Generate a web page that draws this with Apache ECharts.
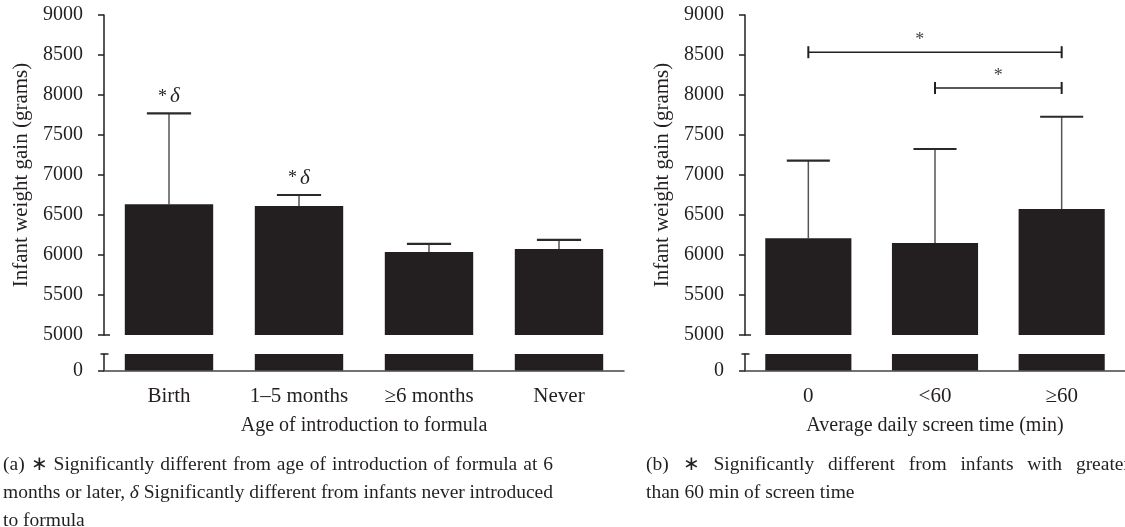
<!DOCTYPE html>
<html><head><meta charset="utf-8">
<script src="https://cdn.jsdelivr.net/npm/echarts@6/dist/echarts.min.js"></script>
<style>html,body{margin:0;padding:0;background:#fff}#c{width:1125px;height:527px}</style>
</head><body><div id="c"></div>
<script>
// ---------- data ----------
const formulaCategories = ['Birth', '1\u20135 months', '\u22656 months', 'Never'];
const formulaMeans = [6635, 6612, 6037, 6075];
const formulaUpper = [7770, 6750, 6140, 6188];
const formulaSig = ['*\u03b4', '*\u03b4', '', ''];

const screenCategories = ['0', '<60', '\u226560'];
const screenMeans = [6210, 6150, 6575];
const screenUpper = [7180, 7325, 7728];
// [fromCategoryIndex, toCategoryIndex, bracketValue]
const screenBrackets = [[0, 2, 8535], [1, 2, 8088]];

const upperMin = 5000, upperMax = 9000, upperStep = 500;
const lowerMin = 0, lowerMax = 200;

const captionA = [
  '(a) \u2217 Significantly different from age of introduction of formula at 6',
  'months or later, \u03b4 Significantly different from infants never introduced',
  'to formula'
];
const captionB = [
  '(b) \u2217 Significantly different from infants with greater',
  'than 60 min of screen time'
];

// ---------- style ----------
const INK = '#231f20';
const FONT = 'Liberation Serif';
const FS = 20;

const chart = echarts.init(document.getElementById('c'), null, {renderer: 'canvas'});

function gridsFor(left, width) {
  return [
    {left: left, top: 15, width: width, height: 320},
    {left: left, top: 354, width: width, height: 16.5}
  ];
}
const grids = [...gridsFor(104, 520), ...gridsFor(745, 387)];

const labelStyle = {fontFamily: FONT, fontSize: FS, color: INK};

function xAxes(cats, gTop, gBot, name) {
  return [
    {type: 'category', gridIndex: gTop, data: cats, axisLine: {show: false}, axisTick: {show: false}, axisLabel: {show: false}},
    {type: 'category', gridIndex: gBot, data: cats,
     axisLine: {show: true, lineStyle: {color: '#444', width: 1.5}},
     axisTick: {show: false},
     axisLabel: Object.assign({margin: 15, fontSize: 21}, {fontFamily: FONT, color: INK}),
     name: name, nameLocation: 'middle', nameGap: 45,
     nameTextStyle: labelStyle}
  ];
}
function yAxes(gTop, gBot, name) {
  return [
    {type: 'value', gridIndex: gTop, min: upperMin, max: upperMax, interval: upperStep,
     splitLine: {show: false},
     axisLine: {show: true, lineStyle: {color: INK, width: 1.5}},
     axisTick: {show: true, length: 6, lineStyle: {color: INK, width: 1.5}},
     axisLabel: Object.assign({margin: 21, formatter: v => String(v)}, labelStyle),
     name: name, nameLocation: 'middle', nameGap: 72, nameRotate: 90,
     nameTextStyle: {fontFamily: FONT, fontSize: 21, color: INK}},
    {type: 'value', gridIndex: gBot, min: lowerMin, max: lowerMax, interval: lowerMax,
     splitLine: {show: false},
     axisLine: {show: true, lineStyle: {color: INK, width: 1.5}},
     axisTick: {show: true, length: 6, customValues: [0], lineStyle: {color: INK, width: 1.5}},
     axisLabel: Object.assign({margin: 21, customValues: [0], formatter: v => String(v)}, labelStyle)}
  ];
}

function barSeries(values, xi, yi) {
  return {type: 'bar', xAxisIndex: xi, yAxisIndex: yi, data: values, barWidth: '68%',
          itemStyle: {color: INK}, clip: true, silent: true, animation: false};
}

function errorSeries(means, uppers, sig, xi, yi) {
  return {
    type: 'custom', xAxisIndex: xi, yAxisIndex: yi, silent: true, animation: false,
    data: means.map((m, i) => [i, m, uppers[i]]),
    encode: {x: 0, y: 1},
    renderItem: function (params, api) {
      const i = api.value(0);
      const base = api.coord([i, api.value(1)]);
      const top = api.coord([i, api.value(2)]);
      const bw = api.size([1, 0])[0] * 0.68;
      const half = bw * 0.25;
      const children = [
        {type: 'line', shape: {x1: base[0], y1: base[1], x2: top[0], y2: top[1]},
         style: {stroke: '#555', lineWidth: 1.5}},
        {type: 'line', shape: {x1: top[0] - half, y1: top[1], x2: top[0] + half, y2: top[1]},
         style: {stroke: '#2a2a2a', lineWidth: 2.2}}
      ];
      const s = sig ? sig[i] : '';
      if (s) {
        children.push({type: 'text', style: {
          text: '{s|' + s.charAt(0) + '}{d|' + s.slice(1) + '}',
          x: top[0], y: top[1] - 6, align: 'center', verticalAlign: 'bottom',
          rich: {
            s: {fontFamily: FONT, fontSize: 18, fill: INK, padding: [0, 3, 0, 0]},
            d: {fontFamily: FONT, fontSize: 21, fontStyle: 'italic', fill: INK}
          }
        }});
      }
      return {type: 'group', children: children};
    }
  };
}

function bracketSeries(brackets, xi, yi) {
  const starFrac = [0.44, 0.5];
  return {
    type: 'custom', xAxisIndex: xi, yAxisIndex: yi, silent: true, animation: false,
    data: brackets,
    encode: {x: 0, y: 2},
    renderItem: function (params, api) {
      const a = api.coord([api.value(0), api.value(2)]);
      const b = api.coord([api.value(1), api.value(2)]);
      const f = starFrac[params.dataIndex] != null ? starFrac[params.dataIndex] : 0.5;
      const sx = a[0] + (b[0] - a[0]) * f;
      return {type: 'group', children: [
        {type: 'line', shape: {x1: a[0], y1: a[1], x2: b[0], y2: b[1]}, style: {stroke: INK, lineWidth: 1.4}},
        {type: 'line', shape: {x1: a[0], y1: a[1] - 6, x2: a[0], y2: a[1] + 6}, style: {stroke: INK, lineWidth: 2}},
        {type: 'line', shape: {x1: b[0], y1: b[1] - 6, x2: b[0], y2: b[1] + 6}, style: {stroke: INK, lineWidth: 2}},
        {type: 'text', style: {text: '*', x: sx, y: a[1] - 3, align: 'center', verticalAlign: 'bottom',
          fontFamily: FONT, fontSize: 18, fill: '#444'}}
      ]};
    }
  };
}

const option = {
  backgroundColor: '#fff',
  animation: false,
  grid: grids,
  xAxis: [
    ...xAxes(formulaCategories, 0, 1, 'Age of introduction to formula'),
    ...xAxes(screenCategories, 2, 3, 'Average daily screen time (min)')
  ],
  yAxis: [
    ...yAxes(0, 1, 'Infant weight gain (grams)'),
    ...yAxes(2, 3, 'Infant weight gain (grams)')
  ],
  series: [
    barSeries(formulaMeans, 0, 0),
    barSeries(formulaMeans, 1, 1),
    errorSeries(formulaMeans, formulaUpper, formulaSig, 0, 0),
    barSeries(screenMeans, 2, 2),
    barSeries(screenMeans, 3, 3),
    errorSeries(screenMeans, screenUpper, null, 2, 2),
    bracketSeries(screenBrackets, 2, 2)
  ]
};
chart.setOption(option);

// ---------- axis break marks & captions ----------
const graphics = [];
function breakMarks(gTop, gBot) {
  const pTop = chart.convertToPixel({gridIndex: gTop}, [0, upperMin]);
  const axisX = chart.getModel().getComponent('grid', gTop).coordinateSystem.getRect().x;
  const rectBot = chart.getModel().getComponent('grid', gBot).coordinateSystem.getRect();
  graphics.push({type: 'line', silent: true, shape: {x1: axisX, y1: pTop[1], x2: axisX + 6, y2: pTop[1]},
                 style: {stroke: INK, lineWidth: 1.5}});
  graphics.push({type: 'line', silent: true, shape: {x1: axisX - 3.5, y1: rectBot.y, x2: axisX + 4.5, y2: rectBot.y},
                 style: {stroke: INK, lineWidth: 1.5}});
}
breakMarks(0, 1);
breakMarks(2, 3);

const cv = document.createElement('canvas').getContext('2d');
const CAP_FS = 19.5;
function measure(word, italic) {
  cv.font = (italic ? 'italic ' : '') + CAP_FS + 'px "' + FONT + '"';
  return cv.measureText(word).width;
}
function captionLine(text, x0, x1, y, justify) {
  const words = text.split(' ');
  const isIt = w => w === '\u03b4';
  const widths = words.map(w => measure(w, isIt(w)));
  const total = widths.reduce((s, v) => s + v, 0);
  const gap = justify && words.length > 1 ? (x1 - x0 - total) / (words.length - 1) : measure(' ', false);
  let x = x0;
  words.forEach((w, i) => {
    graphics.push({type: 'text', silent: true, x: x, y: y, style: {
      text: w, fontFamily: FONT, fontSize: CAP_FS, fontStyle: isIt(w) ? 'italic' : 'normal',
      fill: INK, verticalAlign: 'middle', align: 'left'}});
    x += widths[i] + gap;
  });
}
captionLine(captionA[0], 3, 553, 465, true);
captionLine(captionA[1], 3, 553, 493, true);
captionLine(captionA[2], 3, 553, 521, false);
captionLine(captionB[0], 646, 1130, 465, true);
captionLine(captionB[1], 646, 1130, 493, false);

chart.setOption({graphic: graphics});
</script></body></html>
